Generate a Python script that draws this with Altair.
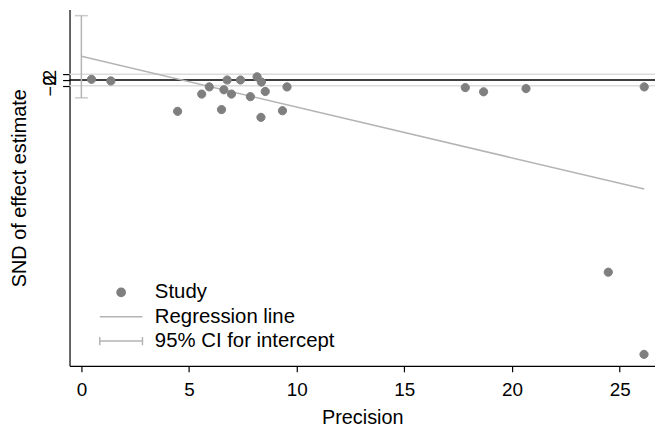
import altair as alt
import pandas as pd

# ---- data ----
precision = [0.47, 1.37, 4.47, 5.59, 5.94, 6.51, 6.62, 6.77, 6.97, 7.39, 7.85, 8.16,
             8.36, 8.34, 8.54, 9.34, 9.55, 17.83, 18.68, 20.65, 26.14, 24.47, 26.13]
snd = [0.24, -0.34, -10.9, -4.9, -2.4, -10.3, -3.4, 0.0, -4.9, 0.0, -5.8, 1.1,
       -0.7, -13.0, -4.0, -10.7, -2.4, -2.65, -4.1, -3.0, -2.4, -66.9, -95.5]
reg_x = [0.0, 26.14]
reg_y = [8.3, -37.97]
ci_x = [0.0]
ci_low = [-6.2]
ci_high = [22.4]
zero_line = [0]
band_lines = [-2, 2]
x_ticks = [0, 5, 10, 15, 20, 25]
y_ticks = [-2, 0, 2]
legend_labels = ["Study", "Regression line", "95% CI for intercept"]

FONT = "Liberation Sans"
DOT = "#7f7f7f"
LIGHT = "#b4b4b4"

pts = pd.DataFrame({"precision": precision, "snd": snd, "kind": ["Study"] * len(precision)})
reg = pd.DataFrame({"precision": reg_x, "snd": reg_y})
ci = pd.DataFrame({"precision": ci_x, "lo": ci_low, "hi": ci_high})
zl = pd.DataFrame({"y": zero_line})
bl = pd.DataFrame({"y": band_lines})

x_scale = alt.Scale(domain=[-0.55, 26.64], nice=False, zero=False)
y_scale = alt.Scale(domain=[-99.5, 24.5], nice=False, zero=False)

# symbol size 400 -> path unit = 10 px
SYM = 400
circle_path = "M-0.415,0A0.415,0.415,0,1,0,0.415,0A0.415,0.415,0,1,0,-0.415,0Z"
line_path = "M-2.15,0L2.15,0"
ci_path = "M-2.15,0L2.15,0M-2.15,-0.42L-2.15,0.42M2.15,-0.42L2.15,0.42"

x_axis = alt.Axis(values=x_ticks, title="Precision", tickSize=6, labelPadding=9,
                  labelFontSize=19, titlePadding=8, grid=False, labelOverlap=False)
y_axis = alt.Axis(values=y_ticks, title="SND of effect estimate", tickSize=7,
                  labelAngle=270, labelPadding=3, labelFontSize=18, titlePadding=12,
                  grid=False, labelOverlap=False)

bands = alt.Chart(bl).mark_rule(color="#dcdcdc", strokeWidth=1.5).encode(
    y=alt.Y("y:Q", scale=y_scale, axis=y_axis))
zero = alt.Chart(zl).mark_rule(color="black", strokeWidth=1.5).encode(
    y=alt.Y("y:Q", scale=y_scale))
regline = alt.Chart(reg).mark_line(color=LIGHT, strokeWidth=1.5).encode(
    x=alt.X("precision:Q", scale=x_scale, axis=x_axis),
    y=alt.Y("snd:Q", scale=y_scale))
ci_rule = alt.Chart(ci).mark_rule(color=LIGHT, strokeWidth=1.5).encode(
    x=alt.X("precision:Q", scale=x_scale),
    y=alt.Y("lo:Q", scale=y_scale), y2="hi:Q")
ci_cap_lo = alt.Chart(ci).mark_tick(color=LIGHT, orient="horizontal", size=13, thickness=1.5).encode(
    x=alt.X("precision:Q", scale=x_scale), y=alt.Y("lo:Q", scale=y_scale))
ci_cap_hi = alt.Chart(ci).mark_tick(color=LIGHT, orient="horizontal", size=13, thickness=1.5).encode(
    x=alt.X("precision:Q", scale=x_scale), y=alt.Y("hi:Q", scale=y_scale))

leg = alt.Legend(title=None, orient="none", legendX=41, legendY=274,
                 symbolSize=SYM, symbolStrokeWidth=1.5, labelFontSize=20.5,
                 labelFont=FONT, labelColor="black", labelOffset=23, rowPadding=2.5,
                 labelLimit=0)
points = alt.Chart(pts).mark_point(filled=False, size=SYM, strokeWidth=1, opacity=1).encode(
    x=alt.X("precision:Q", scale=x_scale),
    y=alt.Y("snd:Q", scale=y_scale),
    shape=alt.Shape("kind:N", scale=alt.Scale(domain=legend_labels,
                    range=[circle_path, line_path, ci_path]), legend=leg),
    color=alt.Color("kind:N", scale=alt.Scale(domain=legend_labels,
                    range=[DOT, LIGHT, LIGHT]), legend=leg),
    fill=alt.Fill("kind:N", scale=alt.Scale(domain=legend_labels,
                  range=[DOT, LIGHT, LIGHT]), legend=leg),
)

chart = alt.layer(bands, zero, regline, ci_rule, ci_cap_lo, ci_cap_hi, points).properties(
    width=590, height=359,
    autosize=alt.AutoSizeParams(type="none"),
    padding={"left": 62, "top": 0, "right": 0, "bottom": 61},
).configure_view(stroke=None).configure_axis(
    domainColor="black", domainWidth=1.2, tickColor="black", tickWidth=1.2,
    labelFont=FONT, labelColor="black",
    titleFont=FONT, titleFontSize=20, titleFontWeight="normal", titleColor="black",
)

chart.save("out.html", embed_options={"renderer": "svg", "actions": False})
